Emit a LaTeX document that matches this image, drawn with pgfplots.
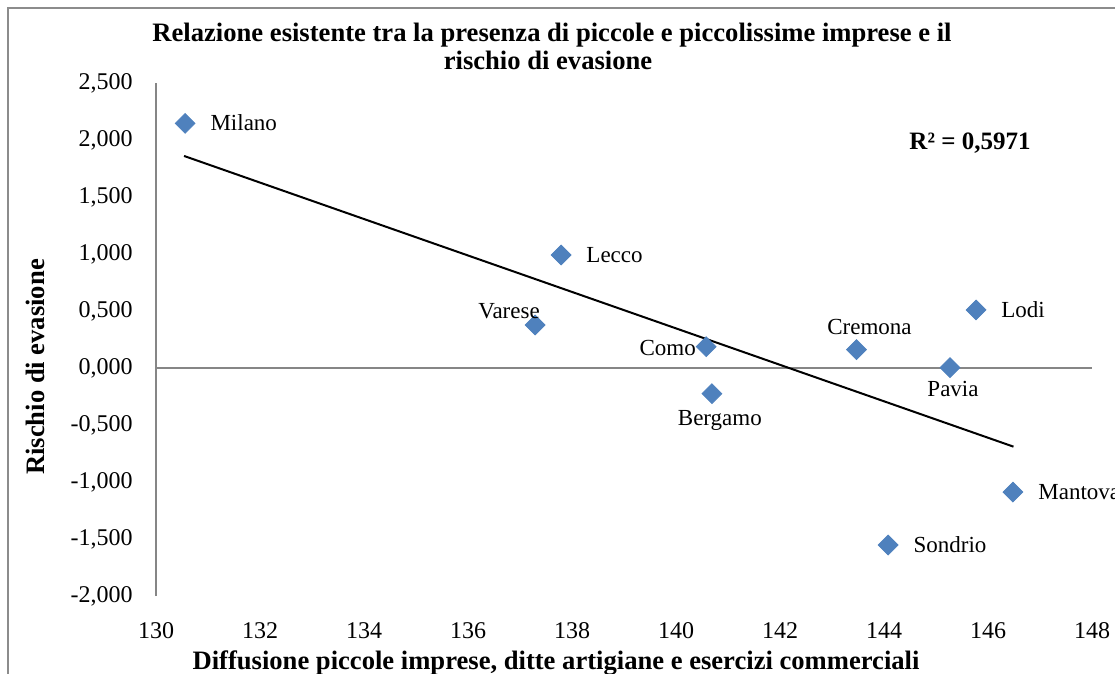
\documentclass[border=0pt]{standalone}
\usepackage{pgfplots}
\pgfplotsset{compat=1.18}
\usepackage{fontspec}
\setmainfont{Liberation Serif}
\definecolor{mk}{HTML}{4F81BD}
\definecolor{axc}{HTML}{868686}
\definecolor{brd}{HTML}{8C8C8C}
\begin{document}
\begin{tikzpicture}
\pgfplotsset{
  mymark/.style={only marks, mark=square*, mark size=3.5pt,
    mark options={rotate=45, fill=mk, draw=mk},
    nodes near coords, point meta=explicit symbolic},
}
\begin{axis}[
  at={(78pt,-298pt)}, anchor=south west,
  scale only axis, width=468pt, height=256.5pt,
  xmin=130, xmax=148, ymin=-2, ymax=2.5,
  xtick={130,132,134,136,138,140,142,144,146,148},
  ytick={-2,-1.5,-1,-0.5,0,0.5,1,1.5,2,2.5},
  axis line style={draw=none},
  major tick length=0pt,
  clip=false,
  /pgf/number format/assume math mode=true,
  tick label style={font=\fontsize{12}{14}\selectfont},
  yticklabel style={anchor=east, inner sep=0pt, xshift=-11.5pt,
    /pgf/number format/.cd, fixed, fixed zerofill, precision=3, use comma},
  xticklabel style={anchor=north, inner sep=0pt, yshift=-13pt},
]
\addplot[axc, line width=0.75pt] coordinates {(130,-2) (130,2.5)};
\addplot[axc, line width=0.75pt] coordinates {(130,0) (148,0)};
\addplot[black, line width=1pt] coordinates {(130.54,1.86) (146.49,-0.69)};
% labels to the right
\addplot[mymark, every node near coord/.append style={anchor=base west, inner sep=0pt,
    xshift=12.5pt, yshift=-3.8pt, font=\fontsize{11.5}{13}\selectfont, text=black}]
  table[meta=label] {
x y label
130.56 2.146 Milano
137.79 0.991 Lecco
145.77 0.509 Lodi
146.48 -1.088 Mantova
144.08 -1.553 Sondrio
};
% label to the left
\addplot[mymark, every node near coord/.append style={anchor=base east, inner sep=0pt,
    xshift=-5pt, yshift=-4.4pt, font=\fontsize{11.5}{13}\selectfont, text=black}]
  table[meta=label] {
x y label
140.58 0.187 Como
};
% labels above / below
\addplot[mymark,
  visualization depends on={value \thisrow{dx}\as\mydx},
  visualization depends on={value \thisrow{dy}\as\mydy},
  every node near coord/.append style={anchor=base, inner sep=0pt,
    xshift=\mydx pt, yshift=\mydy pt, font=\fontsize{11.5}{13}\selectfont, text=black}]
  table[meta=label] {
x y label dx dy
137.29 0.377 Varese -13 3.5
143.47 0.161 Cremona 6.5 7.5
145.27 0.003 Pavia 1.5 -14.5
140.69 -0.225 Bergamo 4 -15.7
};
\end{axis}
\draw[brd, line width=0.75pt] (4pt,-4pt) rectangle (620pt,-420pt);
\node[font=\bfseries\fontsize{13.3}{15}\selectfont, anchor=base] at (276pt,-20.85pt)
  {Relazione esistente tra la presenza di piccole e piccolissime imprese e il};
\node[font=\bfseries\fontsize{13.3}{15}\selectfont, anchor=base] at (274pt,-35pt)
  {rischio di evasione};
\node[font=\bfseries\fontsize{13.3}{15}\selectfont, anchor=base] at (278pt,-334.5pt)
  {Diffusione piccole imprese, ditte artigiane e esercizi commerciali};
\node[font=\bfseries\fontsize{13.3}{15}\selectfont, anchor=base, rotate=90] at (22pt,-183.5pt)
  {Rischio di evasione};
\node[font=\bfseries\fontsize{12.5}{14}\selectfont, anchor=base] at (485pt,-75pt)
  {R² = 0,5971};
\pgfresetboundingbox
\useasboundingbox (0,0) rectangle (557.5pt,-337pt);
\end{tikzpicture}
\end{document}
